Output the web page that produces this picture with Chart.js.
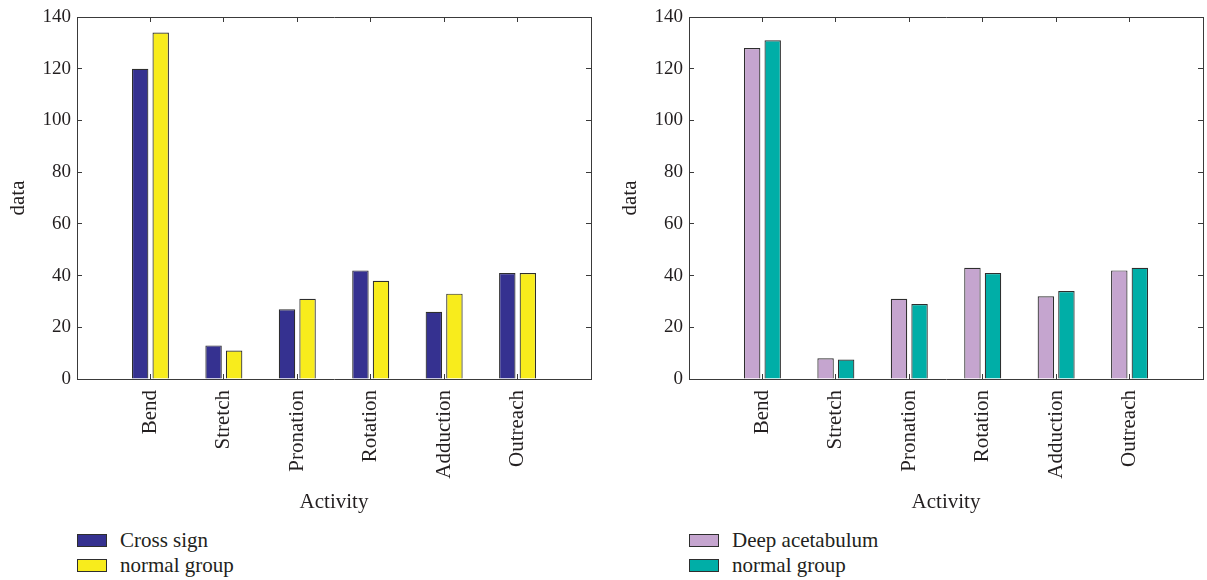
<!DOCTYPE html>
<html>
<head>
<meta charset="utf-8">
<title>Activity data</title>
<script src="https://cdn.jsdelivr.net/npm/chart.js@4.4.1/dist/chart.umd.min.js"></script>
<style>
  html, body { margin: 0; padding: 0; background: #ffffff; }
  #page { position: relative; width: 1207px; height: 580px; overflow: hidden; font-family: 'Liberation Serif', 'DejaVu Serif', serif; }
  canvas { position: absolute; top: 0; }
  .legend { position: absolute; top: 528px; color: #231f20; font-size: 21px; line-height: 25px; }
  .legend .row { display: flex; align-items: center; height: 25px; }
  .legend .sw { width: 28px; height: 11px; border: 1px solid #2e2e2e; margin-right: 13px; }
</style>
</head>
<body>
<div id="page">
  <canvas id="left" width="592" height="515" style="left:0px"></canvas>
  <canvas id="right" width="592" height="515" style="left:612px"></canvas>
  <div class="legend" id="legendLeft" style="left:77px"></div>
  <div class="legend" id="legendRight" style="left:689px"></div>
</div>
<script>
// Activity categories shared by both panels
const activities = ['Bend', 'Stretch', 'Pronation', 'Rotation', 'Adduction', 'Outreach'];

// Left panel series
const crossSign = [120, 13, 27, 42, 26, 41];
const normalGroupA = [134, 11, 31, 38, 33, 41];

// Right panel series
const deepAcetabulum = [128, 8, 31, 43, 32, 42];
const normalGroupB = [131, 7.5, 29, 41, 34, 43];

// Y axis ticks
const yTicks = [0, 20, 40, 60, 80, 100, 120, 140];

const FONT = "'Liberation Serif', 'DejaVu Serif', serif";
const INK = '#231f20';
const AXIS = '#3a3a3a';
const EDGE = '#2e2e2e';

// Empty slots at both ends leave a margin of one category on each side
const padLabels = ['', ...activities, ''];
const pad = arr => [null, ...arr, null];

// Keep the plot box fixed: no extra room reserved for overhanging labels
const noOverhang = s => { s.paddingLeft = 0; s.paddingRight = 0; s.paddingTop = 0; s.paddingBottom = 0; };

function makeChart(canvasId, legendId, series) {
  const datasets = series.map(s => ({
    label: s.label,
    data: pad(s.values),
    backgroundColor: s.color,
    borderColor: EDGE,
    borderWidth: 1.2,
    categoryPercentage: 0.56,
    barPercentage: 0.8
  }));

  const tickGrid = { display: true, drawOnChartArea: false, drawTicks: true, tickLength: -5, color: AXIS, lineWidth: 1, offset: false };
  const border = { display: true, color: AXIS, width: 1 };

  new Chart(document.getElementById(canvasId), {
    type: 'bar',
    data: { labels: padLabels, datasets },
    options: {
      responsive: false,
      animation: false,
      devicePixelRatio: 1,
      layout: { padding: { top: 17, right: 1, bottom: 0, left: 0 } },
      plugins: { legend: { display: false }, tooltip: { enabled: false } },
      scales: {
        x: {
          type: 'category',
          position: 'bottom',
          offset: false,
          grid: tickGrid,
          border,
          ticks: {
            autoSkip: false, maxRotation: 90, minRotation: 90, padding: 16,
            color: INK, font: { family: FONT, size: 21 }
          },
          title: { display: true, text: 'Activity', color: INK, padding: { top: 0, bottom: 0 }, font: { family: FONT, size: 21 } },
          afterFit: s => { s.height = 136; noOverhang(s); }
        },
        x2: {
          type: 'category',
          position: 'top',
          offset: false,
          grid: tickGrid,
          border,
          ticks: { display: false },
          afterFit: s => { s.height = 0; noOverhang(s); }
        },
        y: {
          type: 'linear',
          position: 'left',
          min: yTicks[0],
          max: yTicks[yTicks.length - 1],
          grid: tickGrid,
          border,
          afterBuildTicks: s => { s.ticks = yTicks.map(v => ({ value: v })); },
          ticks: { padding: 11, color: INK, font: { family: FONT, size: 19 } },
          title: { display: true, text: 'data', color: INK, padding: 6, font: { family: FONT, size: 21 } },
          afterFit: s => { s.width = 77; noOverhang(s); }
        },
        y2: {
          type: 'linear',
          position: 'right',
          min: yTicks[0],
          max: yTicks[yTicks.length - 1],
          grid: tickGrid,
          border,
          afterBuildTicks: s => { s.ticks = yTicks.map(v => ({ value: v })); },
          ticks: { display: false },
          afterFit: s => { s.width = 0; noOverhang(s); }
        }
      }
    }
  });

  // Legend rows built from the same dataset definitions
  const box = document.getElementById(legendId);
  series.forEach(s => {
    const row = document.createElement('div');
    row.className = 'row';
    const sw = document.createElement('span');
    sw.className = 'sw';
    sw.style.background = s.color;
    const txt = document.createElement('span');
    txt.textContent = s.label;
    row.appendChild(sw);
    row.appendChild(txt);
    box.appendChild(row);
  });
}

makeChart('left', 'legendLeft', [
  { label: 'Cross sign', values: crossSign, color: '#353190' },
  { label: 'normal group', values: normalGroupA, color: '#f8ec1c' }
]);

makeChart('right', 'legendRight', [
  { label: 'Deep acetabulum', values: deepAcetabulum, color: '#c5a5cf' },
  { label: 'normal group', values: normalGroupB, color: '#00aea7' }
]);
</script>
</body>
</html>
